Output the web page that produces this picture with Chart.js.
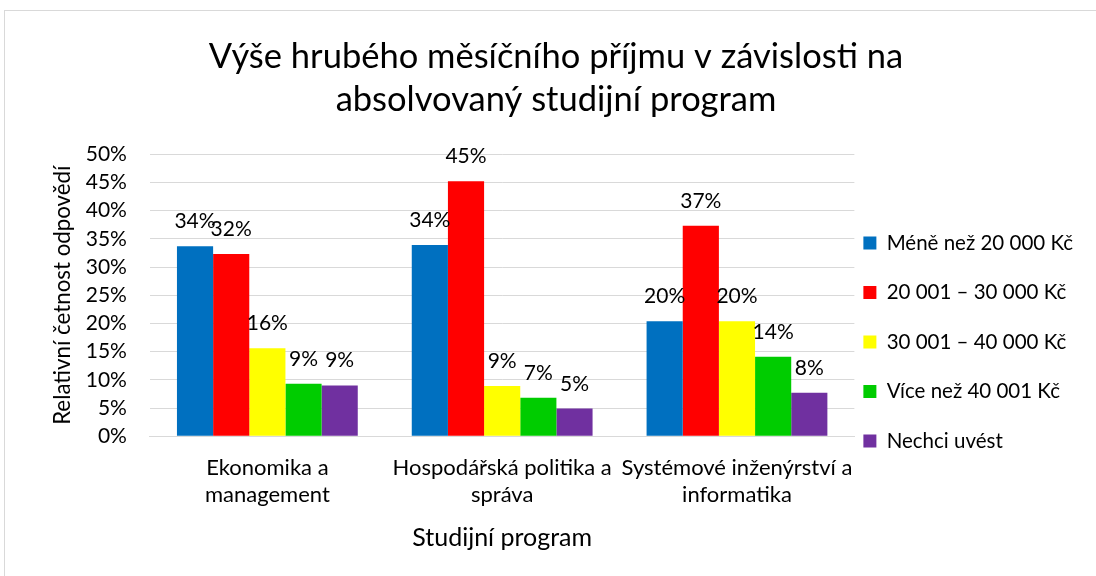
<!DOCTYPE html>
<html>
<head>
<meta charset="utf-8">
<script src="https://cdn.jsdelivr.net/npm/chart.js@4.4.0/dist/chart.umd.min.js"></script>
<style>
  html, body { margin: 0; padding: 0; background: #fff; }
  #wrap { position: relative; width: 1096px; height: 576px; overflow: hidden; }
  #frame { position: absolute; left: 4px; top: 10px; width: 1100px; height: 570px; border: 1px solid #d9d9d9; pointer-events: none; }
</style>
</head>
<body>
<div id="wrap">
  <canvas id="chart" width="1096" height="576"></canvas>
  <div id="frame"></div>
</div>
<script>
// categories (x axis) and series names
const categories = [
  ['Ekonomika a', 'management'],
  ['Hospodářská politika a', 'správa'],
  ['Systémové inženýrství a', 'informatika']
];
const seriesNames = ['Méně než 20 000 Kč', '20 001 – 30 000 Kč', '30 001 – 40 000 Kč', 'Více než 40 001 Kč', 'Nechci uvést'];

// values in percent
const under20k = [33.7, 33.9, 20.4];
const from20to30k = [32.3, 45.2, 37.3];
const from30to40k = [15.6, 8.9, 20.4];
const over40k = [9.3, 6.8, 14.1];
const noAnswer = [9.0, 4.9, 7.7];

const seriesColors = ['#0070C0', '#FF0000', '#FFFF00', '#00CC00', '#7030A0'];
const yMax = 50;
const yStep = 5;

const FONT = 'Lato, "Liberation Sans", sans-serif';

// draws the rounded percentage above every bar
const barLabels = {
  id: 'barLabels',
  afterDatasetsDraw(chart) {
    const ctx = chart.ctx;
    ctx.save();
    ctx.font = '21px ' + FONT;
    ctx.fillStyle = '#000';
    ctx.textAlign = 'center';
    ctx.textBaseline = 'alphabetic';
    chart.data.datasets.forEach((ds, i) => {
      const meta = chart.getDatasetMeta(i);
      meta.data.forEach((bar, j) => {
        ctx.fillText(Math.round(ds.data[j]) + '%', bar.x, bar.y - 18);
      });
    });
    ctx.restore();
  }
};

const allSeries = [under20k, from20to30k, from30to40k, over40k, noAnswer];

new Chart(document.getElementById('chart'), {
  type: 'bar',
  data: {
    labels: categories,
    datasets: allSeries.map((values, i) => ({
      label: seriesNames[i],
      data: values,
      backgroundColor: seriesColors[i],
      borderWidth: 0
    }))
  },
  options: {
    responsive: false,
    animation: false,
    categoryPercentage: 0.77,
    barPercentage: 1,
    layout: { padding: { left: 29, right: 13, top: 0, bottom: 23 } },
    plugins: {
      title: {
        display: true,
        text: ['Výše hrubého měsíčního příjmu v závislosti na', 'absolvovaný studijní program'],
        color: '#000',
        font: { family: FONT, size: 34.5, weight: 'normal', lineHeight: 1.25 },
        padding: { top: 35, bottom: 33 }
      },
      legend: {
        position: 'right',
        title: { display: true, text: ' ', font: { size: 10, lineHeight: 1 }, padding: { top: 0, bottom: 141 } },
        labels: {
          color: '#000',
          font: { family: FONT, size: 20.5, lineHeight: '40.5px' },
          boxWidth: 13,
          boxHeight: 13,
          padding: 9,
          // one-line arrays so the row height follows the font line height
          generateLabels: chart => Chart.defaults.plugins.legend.labels.generateLabels(chart)
            .map(item => Object.assign(item, { text: [item.text] }))
        }
      },
      tooltip: { enabled: false }
    },
    scales: {
      x: {
        grid: { display: false },
        border: { color: '#d9d9d9' },
        ticks: { color: '#000', font: { family: FONT, size: 22 }, maxRotation: 0, autoSkip: false, padding: 11 },
        title: { display: true, text: 'Studijní program', color: '#000', font: { family: FONT, size: 25 }, padding: { top: 4, bottom: 0 } }
      },
      y: {
        min: 0,
        max: yMax,
        grid: { color: '#d9d9d9', tickLength: 18, tickColor: 'rgba(0,0,0,0)' },
        border: { display: false },
        ticks: { stepSize: yStep, autoSkip: false, color: '#000', font: { family: FONT, size: 21 }, padding: 5, callback: v => v + '%' },
        title: { display: true, text: 'Relativní četnost odpovědí', color: '#000', font: { family: FONT, size: 22.3 }, padding: { top: 20, bottom: 5 } }
      }
    }
  },
  plugins: [barLabels]
});
</script>
</body>
</html>
